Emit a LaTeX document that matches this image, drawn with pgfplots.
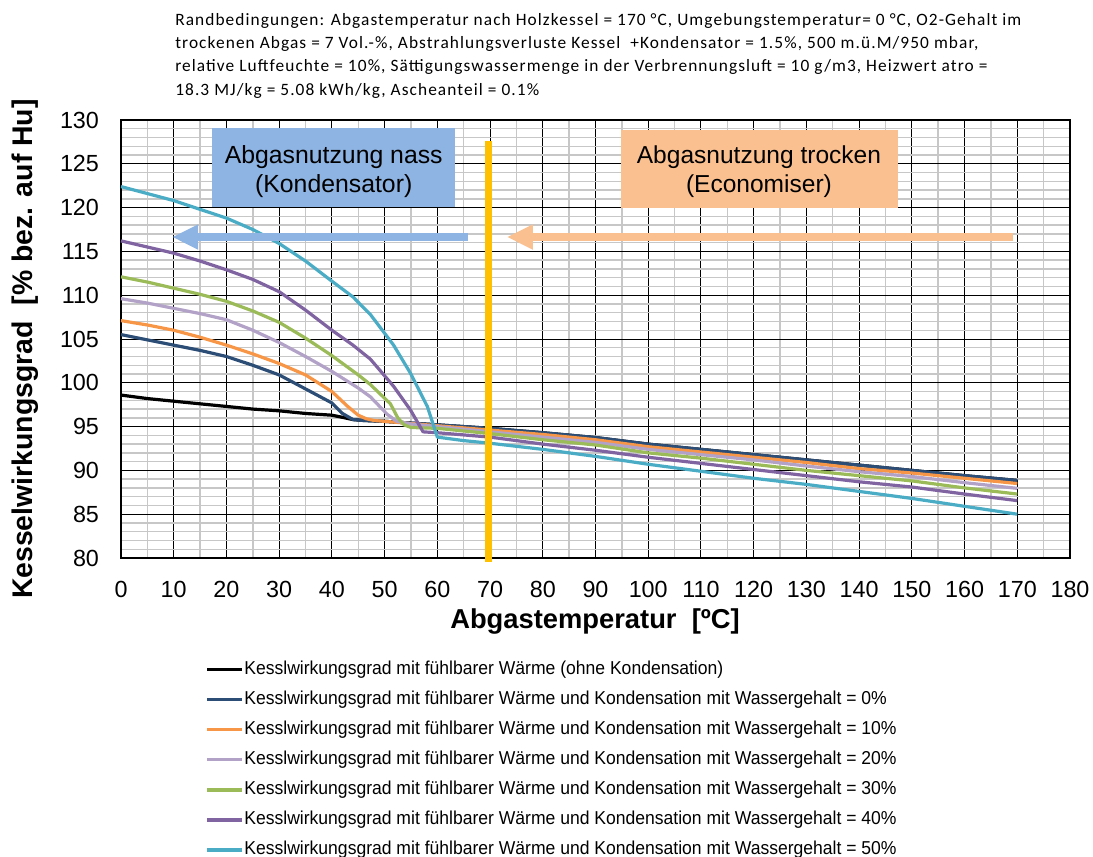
\documentclass[border=0pt]{standalone}
\usepackage{pgfplots}
\pgfplotsset{compat=1.18}
\usepackage{fontspec}
\setmainfont{Liberation Sans}
\newfontfamily\calfont[LetterSpace=6.3]{Carlito}
\newfontfamily\legfont[FakeStretch=0.94]{Liberation Sans}
\usetikzlibrary{arrows.meta}
\definecolor{cnavy}{HTML}{2C4D75}
\definecolor{corange}{HTML}{F79646}
\definecolor{clpurple}{HTML}{B3A2C7}
\definecolor{cgreen}{HTML}{9BBB59}
\definecolor{cpurple}{HTML}{8064A2}
\definecolor{ccyan}{HTML}{4BACC6}
\definecolor{boxblue}{HTML}{8EB4E3}
\definecolor{boxorange}{HTML}{FAC090}
\definecolor{gold}{HTML}{FFC000}
\begin{document}
\begin{tikzpicture}
\useasboundingbox (0,0) rectangle (819.75pt,642.75pt);
\node[anchor=north west, inner sep=0pt, align=left, font=\calfont\fontsize{13}{17.5}\selectfont] at (131.25pt,633pt)
{Randbedingungen: Abgastemperatur nach Holzkessel = 170 °C, Umgebungstemperatur= 0 °C, O2-Gehalt im\\
trockenen Abgas = 7 Vol.-\%, Abstrahlungsverluste Kessel \ +Kondensator = 1.5\%, 500 m.ü.M/950 mbar,\\
relative Luftfeuchte = 10\%, Sättigungswassermenge in der Verbrennungsluft = 10 g/m3, Heizwert atro =\\
18.3 MJ/kg = 5.08 kWh/kg, Ascheanteil = 0.1\%};
\begin{axis}[
 at={(90.75pt,224.25pt)}, anchor=south west,
 width=711.75pt, height=328.5pt, scale only axis,
 xmin=0, xmax=180, ymin=80, ymax=130,
 xtick={0,10,...,180}, ytick={80,85,...,130},
 minor x tick num=1, minor y tick num=4,
 grid=both,
 major grid style={black, line width=0.7pt},
 minor grid style={color=black!22, line width=1.1pt},
 major tick length=0pt, minor tick length=0pt,
 axis line style={black, line width=0.8pt},
 ticklabel style={font=\fontsize{17.5}{21}\selectfont},
 /pgf/number format/assume math mode=true,
 xticklabel style={yshift=-14pt},
 yticklabel style={xshift=-13pt},
 xlabel={Abgastemperatur\ \ [ºC]},
 ylabel={Kesselwirkungsgrad\ \ [\% bez. auf Hu]},
 xlabel style={font=\bfseries\fontsize{20.5}{24}\selectfont, at={(axis description cs:0.4995,-0.146)}, anchor=center},
 ylabel style={font=\bfseries\fontsize{21.3}{24}\selectfont, at={(axis description cs:-0.101,0.477)}, anchor=center},
 clip=false,
 legend cell align=left,
 legend style={at={(axis description cs:0.0843,-0.2262)}, anchor=north west, draw=none, fill=none,
   font=\legfont\fontsize{14}{16}\selectfont, row sep=8.6pt,
   nodes={inner sep=0.5pt, text height=10pt, text depth=3pt}},
 legend image code/.code={\draw[#1, line width=2.6pt] (0pt,0pt) -- (26.25pt,0pt);},
 every axis plot/.append style={line width=2.4pt, line join=round},
]
\addplot[black] coordinates {(0,98.6)(5,98.2)(10,97.9)(15,97.6)(20,97.3)(25,97.0)(30,96.8)(35,96.5)(40,96.3)(42,96.06)(44,95.8)(46,95.7)(50,95.6)(55,95.4)(60,95.2)(70,94.8)(80,94.3)(90,93.75)(100,93.0)(110,92.4)(120,91.8)(130,91.2)(140,90.6)(150,90.0)(160,89.4)(170,88.85)};
\addlegendentry{Kesslwirkungsgrad mit fühlbarer Wärme (ohne Kondensation)}
\addplot[cnavy] coordinates {(0,105.5)(5,104.9)(10,104.3)(15,103.7)(20,103.0)(25,102.0)(30,100.9)(35,99.3)(40,97.7)(42,96.5)(44,95.8)(46,95.7)(50,95.6)(55,95.4)(60,95.2)(70,94.8)(80,94.3)(90,93.75)(100,93.0)(110,92.4)(120,91.8)(130,91.2)(140,90.6)(150,90.0)(160,89.4)(170,88.85)};
\addlegendentry{Kesslwirkungsgrad mit fühlbarer Wärme und Kondensation mit Wassergehalt = 0\%}
\addplot[corange] coordinates {(0,107.1)(5,106.6)(10,106.0)(15,105.2)(20,104.3)(25,103.3)(30,102.2)(35,100.9)(40,99.0)(43,97.3)(45,96.3)(46.5,95.9)(48,95.7)(50,95.6)(55,95.35)(60,95.1)(70,94.6)(80,94.1)(90,93.5)(100,92.7)(110,92.1)(120,91.5)(130,90.9)(140,90.2)(150,89.7)(160,89.1)(170,88.5)};
\addlegendentry{Kesslwirkungsgrad mit fühlbarer Wärme und Kondensation mit Wassergehalt = 10\%}
\addplot[clpurple] coordinates {(0,109.6)(5,109.1)(10,108.5)(15,107.9)(20,107.2)(25,106.0)(30,104.6)(35,103.0)(40,101.3)(45,99.4)(47.3,98.4)(50.5,96.4)(52.3,95.6)(55,95.3)(60,95.0)(70,94.4)(80,93.8)(90,93.2)(100,92.4)(110,91.8)(120,91.2)(130,90.5)(140,89.85)(150,89.3)(160,88.6)(170,87.95)};
\addlegendentry{Kesslwirkungsgrad mit fühlbarer Wärme und Kondensation mit Wassergehalt = 20\%}
\addplot[cgreen] coordinates {(0,112.1)(5,111.5)(10,110.8)(15,110.1)(20,109.3)(25,108.2)(30,106.9)(35,105.1)(40,103.1)(45,100.9)(47.3,99.8)(51.1,97.6)(52.5,96.0)(53.7,95.2)(55,94.9)(60,94.8)(70,94.2)(80,93.5)(90,92.9)(100,92.0)(110,91.4)(120,90.7)(130,90.0)(140,89.4)(150,88.8)(160,88.0)(170,87.3)};
\addlegendentry{Kesslwirkungsgrad mit fühlbarer Wärme und Kondensation mit Wassergehalt = 30\%}
\addplot[cpurple] coordinates {(0,116.2)(5,115.5)(10,114.8)(15,113.9)(20,112.9)(25,111.8)(30,110.4)(35,108.3)(40,106.0)(44,104.3)(47.3,102.7)(51.7,99.6)(54.9,96.9)(57.3,94.4)(60,94.3)(70,93.8)(80,93.0)(90,92.3)(100,91.5)(110,90.8)(120,90.1)(130,89.4)(140,88.7)(150,88.1)(160,87.3)(170,86.55)};
\addlegendentry{Kesslwirkungsgrad mit fühlbarer Wärme und Kondensation mit Wassergehalt = 40\%}
\addplot[ccyan] coordinates {(0,122.4)(5,121.6)(10,120.8)(15,119.8)(20,118.8)(25,117.5)(30,115.9)(35,113.9)(40,111.6)(44,109.8)(47.3,107.8)(51.7,104.3)(54.9,101.1)(58.1,97.3)(60,93.8)(65,93.4)(70,93.1)(80,92.4)(90,91.6)(100,90.7)(110,89.9)(120,89.1)(130,88.4)(140,87.6)(150,86.8)(160,85.9)(170,85.0)};
\addlegendentry{Kesslwirkungsgrad mit fühlbarer Wärme und Kondensation mit Wassergehalt = 50\%}
\addplot[gold, line width=5.25pt, line cap=butt, forget plot] coordinates {(69.7,79.6)(69.7,127.6)};
\fill[boxblue] (axis cs:17.3,120.1) rectangle (axis cs:63.4,129.1);
\node[align=center, font=\fontsize{18.6}{21.75}\selectfont] at (axis cs:40.35,124.15) {Abgasnutzung nass\\(Kondensator)};
\fill[boxorange] (axis cs:94.8,119.9) rectangle (axis cs:147.3,128.9);
\node[align=center, font=\fontsize{18.4}{21.75}\selectfont] at (axis cs:121,124.05) {Abgasnutzung trocken\\(Economiser)};
\draw[boxblue, line width=6.25pt, -{Triangle[length=19.5pt, width=17.5pt]}] (axis cs:65.8,116.64) -- (axis cs:9.7,116.64);
\draw[boxorange, line width=6.25pt, -{Triangle[length=19.5pt, width=17.5pt]}] (axis cs:169.2,116.64) -- (axis cs:73.2,116.64);
\end{axis}
\end{tikzpicture}
\end{document}
